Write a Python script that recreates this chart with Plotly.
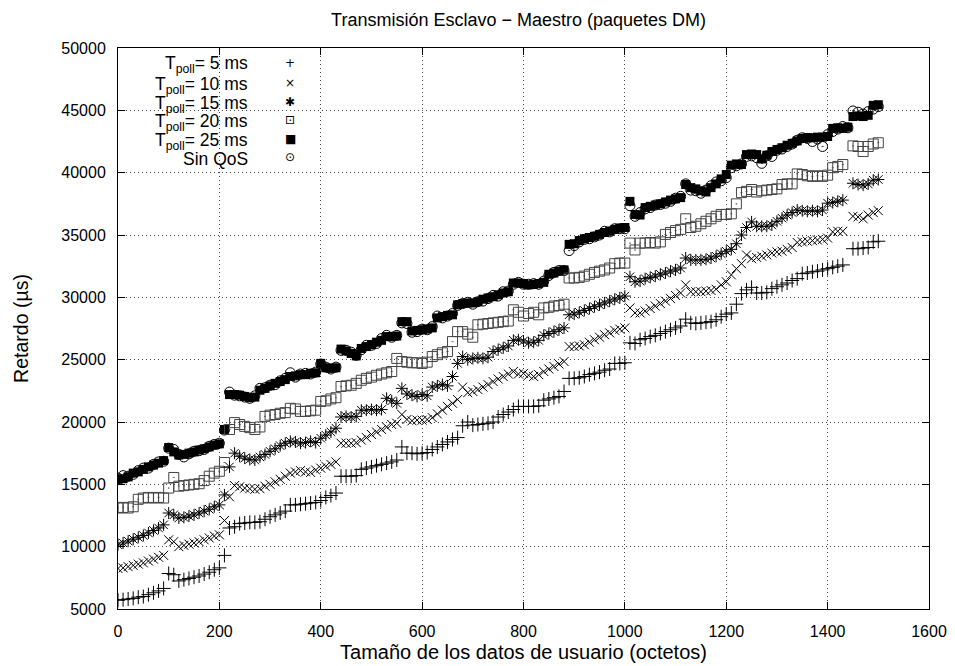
import plotly.graph_objects as go

octets = list(range(0, 1510, 10))

t5 = [5700, 5750, 5800, 5850, 5950, 6000, 6150, 6300, 6450, 6650,
      7850, 7750, 7250, 7350, 7450, 7550, 7650, 7800, 7950, 8150,
      8300, 9300, 11500, 11600, 11850, 11900, 11950, 11950, 12000, 12200,
      12400, 12550, 12700, 12850, 13350, 13350, 13400, 13450, 13500, 13550,
      13700, 13950, 14100, 14300, 15650, 15650, 15650, 15700, 16200, 16300,
      16400, 16500, 16600, 16700, 16800, 16950, 18000, 17500, 17500, 17450,
      17500, 17550, 17800, 18000, 18200, 18400, 18600, 18750, 19700, 20000,
      19750, 19800, 19850, 19900, 20000, 20400, 20600, 20800, 21000, 21250,
      21250, 21250, 21250, 21300, 21750, 21850, 21950, 22050, 22450, 23500,
      23500, 23550, 23650, 23800, 23900, 24000, 24150, 24250, 24700, 24700,
      24750, 26350, 26300, 26600, 26700, 26850, 26950, 27100, 27250, 27400,
      27550, 27700, 28250, 27950, 27900, 27950, 28000, 28050, 28200, 28450,
      28650, 28750, 29450, 30300, 30600, 30800, 30350, 30350, 30400, 30700,
      30850, 31000, 31150, 31350, 31500, 31900, 31950, 32050, 32100, 32200,
      32300, 32400, 32500, 32600, None, 33900, 33900, 33950, 34000, 34450,
      34500]

t10 = [8250, 8300, 8400, 8500, 8600, 8700, 8850, 9000, 9150, 9300,
       10550, 10400, 10000, 10100, 10200, 10300, 10400, 10550, 10700, 10850,
       10950, 12100, 14000, 14900, 14800, 14700, 14650, 14600, 14650, 14850,
       15000, 15200, 15400, 15650, 15900, 16000, 16100, 16000, 15950, 16150,
       16300, 16450, 16600, 16800, 18300, 18300, 18300, 18350, 18550, 18750,
       19000, 19200, 19400, 19600, 19800, 19900, 20600, 20200, 20100, 20150,
       20150, 20200, 20350, 20650, 20950, 21250, 21500, 21800, 22800, 22350,
       22450, 22600, 22800, 23000, 23250, 23450, 23650, 23850, 24050, 23850,
       23900, 23750, 23650, 23800, 24050, 24250, 24450, 24650, 24850, 26050,
       26050, 26100, 26200, 26400, 26600, 26800, 27000, 27150, 27350, 27450,
       27550, 29150, 28750, 28750, 28900, 29100, 29300, 29500, 29700, 29900,
       30150, 30350, 31000, 30450, 30450, 30450, 30500, 30550, 30650, 31000,
       31250, 31800, 32300, 32700, 33400, 33100, 33200, 33300, 33400, 33550,
       33650, 33700, 33850, 34000, 34400, 34450, 34500, 34550, 34600, 34650,
       34750, 35250, 35300, 35300, None, 36500, 36450, 36300, 36600, 36800,
       36950]

t15 = [10150, 10300, 10450, 10600, 10750, 10900, 11100, 11300, 11500, 11750,
       12700, 12550, 12300, 12350, 12450, 12550, 12700, 12850, 13000, 13200,
       13350, 14150, 16400, 17500, 17250, 17100, 17000, 16950, 17200, 17400,
       17650, 17850, 18100, 18300, 18450, 18400, 18300, 18350, 18450, 18350,
       18700, 18950, 19200, 19500, 20400, 20450, 20400, 20450, 20950, 20950,
       21000, 20950, 21000, 21900, 21700, 21500, 22700, 22250, 22150, 22050,
       22200, 22100, 22800, 22900, 23000, 22900, 23650, 24700, 25250, 25000,
       25100, 25150, 25100, 25200, 25650, 25800, 25950, 26100, 26550, 26600,
       26500, 26350, 26400, 26550, 26950, 27100, 27250, 27400, 27550, 28600,
       28650, 28800, 28950, 29100, 29250, 29400, 29550, 29700, 29850, 29950,
       30100, 31650, 31250, 31300, 31500, 31600, 31700, 31850, 31950, 32100,
       32200, 32350, 33150, 33000, 33000, 33000, 33050, 33150, 33300, 33500,
       33700, 33850, 34300, 35000, 35600, 36050, 35700, 35700, 35700, 35800,
       36100, 36350, 36600, 36800, 37000, 36950, 36900, 36950, 36900, 37000,
       37550, 37600, 37700, 37800, None, 39150, 39050, 39000, 39100, 39400,
       39450]

t20 = [13100, 13150, 13100, 13200, 13800, 13900, 13950, 13900, 13950, 13900,
       14700, 15550, 14850, 14900, 14950, 15000, 15050, 15300, 15650, 15900,
       16050, 16750, 19400, 19950, 19800, 19650, 19550, 19400, 19600, 20450,
       20550, 20600, 20700, 20750, 21100, 21050, 20850, 20850, 20900, 20950,
       21650, 21700, 21850, 21950, 22850, 22900, 22950, 23100, 23350, 23500,
       23600, 23750, 23850, 23950, 24050, 25100, 24850, 24800, 24750, 24750,
       24700, 24800, 25250, 25400, 25550, 25650, 26450, 27250, 27250, 27050,
       26800, 27800, 27850, 27900, 27950, 28000, 28050, 28100, 29000, 28800,
       28500, 28700, 28800, 28600, 29150, 29200, 29300, 29350, 29450, 31550,
       31550, 31600, 31700, 31850, 32000, 32100, 32200, 32350, 32700, 32750,
       32750, 34350, 33800, 34350, 34350, 34400, 34350, 34450, 35050, 35200,
       35350, 35450, 36300, 35600, 35700, 35900, 36100, 36300, 36500, 36650,
       36650, 36700, 37500, 38400, 38500, 38650, 38450, 38550, 38600, 38650,
       38700, 39050, 39100, 39100, 39900, 39850, 39750, 39700, 39750, 39700,
       39800, 40400, 40500, 40650, None, 42150, 42100, 41700, 42100, 42300,
       42400]

t25 = [15400, 15450, 15600, 15900, 16000, 16200, 16400, 16550, 16700, 16900,
       17950, 17600, 17350, 17400, 17500, 17600, 17750, 17850, 18000, 18150,
       18250, 19400, 22200, 22200, 22150, 22050, 21950, 22000, 22550, 22700,
       22900, 23100, 23250, 23400, 23650, 23700, 23800, 23800, 23900, 23950,
       24700, 24350, 24300, 24350, 25850, 25700, 25500, 25300, 25900, 26050,
       26200, 26400, 26550, 26850, 26850, 26900, 28050, 28050, 27300, 27350,
       27400, 27450, 27550, 28350, 28450, 28550, 28600, 29400, 29500, 29550,
       29550, 29650, 29850, 29950, 30050, 30200, 30350, 30450, 31150, 31150,
       31100, 31000, 31050, 31100, 31200, 31850, 31950, 32100, 32200, 34250,
       34300, 34550, 34700, 34800, 34900, 35050, 35200, 35300, 35450, 35550,
       35600, 37700, 36650, 36600, 37200, 37300, 37400, 37500, 37650, 37800,
       37900, 38000, 39050, 38800, 38700, 38550, 38450, 38800, 39100, 39500,
       39850, 40600, 40700, 40650, 41450, 41500, 41450, 41100, 41400, 41700,
       41850, 42000, 42200, 42350, 42550, 42750, 42800, 42800, 42850, 42850,
       42900, 43550, 43600, 43550, 43650, 44500, 44550, 44500, 44600, 45400,
       45450]

sin_qos = [15500, 15700, 15650, 15800, 16100, 16300, 16300, 16600, 16800, 16850,
           17900, 17800, 17400, 17200, 17450, 17650, 17700, 17800, 18050, 18200,
           18300, 19350, 22400, 22150, 22100, 22000, 21900, 22100, 22700, 22750,
           22950, 23000, 23300, 23500, 23950, 23600, 23850, 23900, 23850, 24000,
           24650, 24400, 24250, 24400, 25750, 25750, 25600, 25350, 25800, 26150,
           26150, 26300, 26700, 26950, 26800, 26950, 27950, 27900, 27200, 27250,
           27450, 27400, 27650, 28500, 28350, 28500, 28700, 29350, 29500, 29600,
           29450, 29650, 29700, 29900, 30150, 30100, 30450, 30500, 31050, 31200,
           31050, 31050, 31100, 31050, 31300, 31750, 32000, 32150, 32150, 33750,
           34150, 34450, 34650, 34700, 34850, 35000, 35300, 35250, 35500, 35500,
           35500, 37350, 36500, 36800, 37100, 37200, 37400, 37450, 37550, 37700,
           37950, 38100, 39100, 38600, 38550, 38350, 38600, 38950, 39250, 39350,
           39600, 40400, 40550, 40700, 41300, 41350, 41200, 40750, 41350, 41300,
           41800, 41900, 42100, 42300, 42600, 42800, 42750, 42500, 42700, 42100,
           43050, 43300, 43500, 43700, 43600, 44950, 44850, 44700, 44900, 45100,
           45300]

series_names = ["T<sub>poll</sub>= 5 ms", "T<sub>poll</sub>= 10 ms", "T<sub>poll</sub>= 15 ms",
                "T<sub>poll</sub>= 20 ms", "T<sub>poll</sub>= 25 ms", "Sin QoS"]
legend_glyphs = ["+", "×", "✱", "⊡", "■", "⊙"]

FONT = "Liberation Sans, Arial, Helvetica, sans-serif"

styles = [
    dict(symbol="cross-thin", size=10, color="black", line=dict(width=1, color="black")),
    dict(symbol="x-thin", size=9, color="black", line=dict(width=1, color="black")),
    dict(symbol="asterisk", size=10, color="black", line=dict(width=1, color="black")),
    dict(symbol="square-open-dot", size=10, color="#444", line=dict(width=1, color="#444")),
    dict(symbol="square", size=9, color="black", line=dict(width=0)),
    dict(symbol="circle-open-dot", size=10, color="black", line=dict(width=1, color="black")),
]

fig = go.Figure()
all_series = [t5, t10, t15, t20, t25, sin_qos]
order = [5, 4, 3, 2, 1, 0]
for i in order:
    fig.add_trace(go.Scatter(
        x=octets, y=all_series[i], mode="markers", name=series_names[i],
        marker=styles[i], showlegend=False, cliponaxis=True,
    ))

# gnuplot-style key: right-aligned text with the key symbol to its right
legend_rows = [0.9697, 0.9340, 0.9000, 0.8668, 0.8340, 0.8016]
annotations = []
for name, glyph, yy in zip(series_names, legend_glyphs, legend_rows):
    annotations.append(dict(xref="paper", yref="paper", x=0.1633, y=yy,
                            xanchor="right", yanchor="middle", text=name,
                            showarrow=False, font=dict(family=FONT, size=17.5, color="black")))
    annotations.append(dict(xref="paper", yref="paper", x=0.2126, y=yy + 0.004,
                            xanchor="center", yanchor="middle", text=glyph,
                            showarrow=False, font=dict(family="DejaVu Sans", size=12, color="black")))

axis_common = dict(
    showline=True, linecolor="black", linewidth=1, mirror="ticks",
    ticks="inside", ticklen=7, tickcolor="black", tickwidth=1,
    showgrid=True, gridcolor="#444", griddash="1px,3px", gridwidth=1,
    zeroline=False, automargin=False,
    tickfont=dict(family=FONT, size=16, color="black"),
)

fig.update_layout(
    width=955, height=666,
    margin=dict(l=118, r=26, t=48, b=57),
    paper_bgcolor="white", plot_bgcolor="white",
    title=dict(text="Transmisión Esclavo − Maestro (paquetes DM)",
               x=0.543, xanchor="center", y=0.971, yanchor="middle",
               font=dict(family=FONT, size=18, color="black")),
    xaxis=dict(range=[0, 1600], dtick=200, tick0=0, tickformat="d",
               ticklabelstandoff=8,
               title=dict(text="Tamaño de los datos de usuario (octetos)", standoff=5,
                          font=dict(family=FONT, size=20, color="black")),
               **axis_common),
    yaxis=dict(range=[5000, 50000], dtick=5000, tick0=5000, tickformat="d",
               ticklabelstandoff=8,
               title=dict(text="Retardo (µs)", standoff=27,
                          font=dict(family=FONT, size=19.5, color="black")),
               **axis_common),
    annotations=annotations,
    showlegend=False,
)

fig.write_html("out.html", config={"displayModeBar": False},
               post_script="document.body.style.margin='0';")
